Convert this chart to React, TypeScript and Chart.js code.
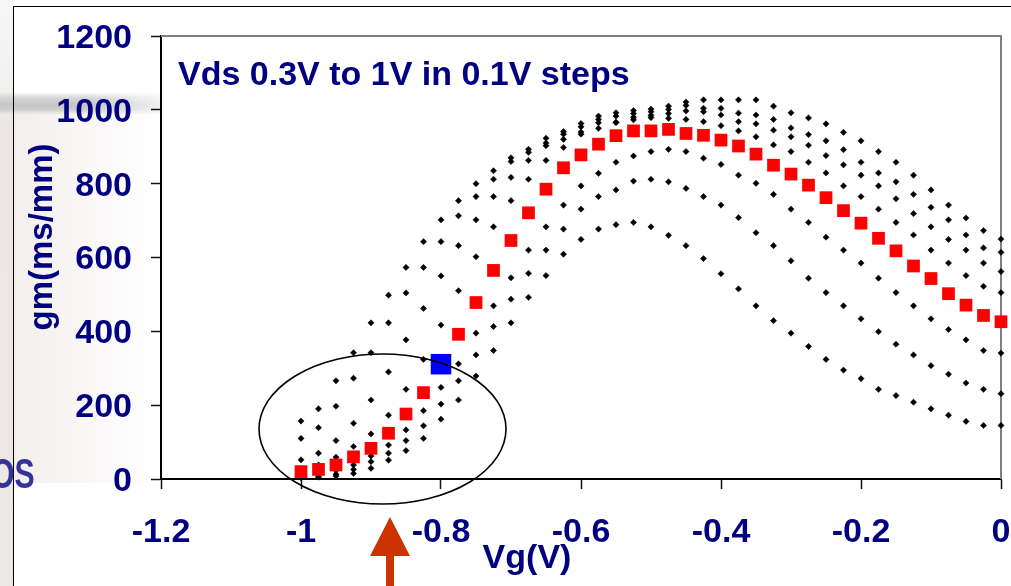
import React, { useEffect, useRef } from "react";
import { Chart, registerables } from "chart.js";
Chart.register(...registerables);

// Gate voltage sweep (V)
const vg = [
  -1, -0.975, -0.95, -0.925, -0.9, -0.875, -0.85, -0.825, -0.8, -0.775,
  -0.75, -0.725, -0.7, -0.675, -0.65, -0.625, -0.6, -0.575, -0.55, -0.525,
  -0.5, -0.475, -0.45, -0.425, -0.4, -0.375, -0.35, -0.325, -0.3, -0.275,
  -0.25, -0.225, -0.2, -0.175, -0.15, -0.125, -0.1, -0.075, -0.05, -0.025, 0,
];

// gm (mS/mm) for each Vds
const gmVds03 = [
  3, 5, 8, 15, 29, 51, 77, 110, 162, 214, 279, 348, 423, 492, 551, 609, 649, 677, 689, 695,
  683, 660, 632, 597, 556, 515, 469, 429, 395, 359, 324, 295, 272, 243, 226, 208, 190, 173, 156, 145, 145,
];
const gmVds04 = [
  6, 8, 13, 26, 47, 70, 104, 144, 203, 266, 336, 413, 487, 557, 620, 677, 731, 765, 783, 807,
  812, 805, 787, 765, 742, 708, 667, 632, 591, 544, 505, 469, 434, 399, 365, 336, 307, 284, 260, 243, 231,
];
const gmVds05 = [
  10, 14, 24, 38, 62, 92, 133, 185, 248, 312, 395, 469, 545, 620, 683, 742, 794, 828, 858, 875,
  887, 893, 887, 869, 852, 823, 801, 771, 731, 695, 655, 620, 585, 544, 505, 469, 434, 405, 377, 348, 341,
];
const gmVds06 = [
  20, 26, 38, 60, 83, 124, 176, 234, 311, 392, 478, 565, 646, 721, 785, 843, 878, 907, 930, 943,
  943, 947, 936, 931, 918, 902, 880, 850, 826, 796, 762, 727, 693, 652, 618, 577, 543, 502, 471, 443, 426,
];
const gmVds07 = [
  28, 38, 59, 88, 122, 173, 243, 324, 417, 510, 602, 683, 754, 812, 863, 898, 934, 950, 966, 973,
  979, 977, 974, 968, 957, 943, 927, 905, 887, 858, 829, 794, 765, 731, 695, 661, 620, 585, 551, 522, 505,
];
const gmVds08 = [
  52, 70, 104, 151, 214, 290, 377, 462, 550, 632, 702, 765, 817, 863, 903, 920, 940, 965, 966, 980,
  985, 990, 997, 995, 986, 968, 962, 945, 927, 904, 876, 851, 823, 794, 759, 719, 683, 649, 620, 585, 562,
];
const gmVds09 = [
  110, 139, 197, 273, 342, 423, 504, 573, 643, 713, 765, 812, 860, 885, 910, 934, 954, 974, 983, 990,
  995, 1001, 1012, 1004, 1004, 991, 986, 974, 951, 933, 916, 892, 858, 829, 805, 771, 736, 702, 661, 626, 614,
];
const gmVds10 = [
  157, 190, 266, 342, 423, 498, 573, 643, 702, 754, 800, 835, 870, 893, 923, 941, 963, 983, 992, 998,
  1002, 1010, 1021, 1027, 1027, 1027, 1027, 1010, 992, 978, 962, 939, 916, 887, 858, 823, 783, 742, 707, 673, 650,
];

const highlightVg = [-0.8];
const highlightGm = [311];

const xTickValues = [-1.2, -1, -0.8, -0.6, -0.4, -0.2, 0];
const yTickValues = [0, 200, 400, 600, 800, 1000, 1200];

const NAVY = "#000080";
const FAMILY = '"Liberation Sans", Arial, Helvetica, sans-serif';

const pts = (ys: number[]) => vg.map((x, i) => ({ x, y: ys[i] }));

const blackSet = (label: string, ys: number[], order: number) => ({
  label,
  data: pts(ys),
  pointStyle: "rectRot",
  pointRadius: 3.1,
  pointBorderWidth: 0.5,
  backgroundColor: "#000",
  borderColor: "#000",
  showLine: false,
  clip: false,
  order,
});

const framePlugin = {
  id: "framePlugin",
  beforeDraw(chart: any) {
    const { ctx, chartArea } = chart;
    const { left, top, right, bottom } = chartArea;
    ctx.save();
    ctx.fillStyle = "#ffffff";
    ctx.fillRect(left, top, right - left, bottom - top);
    ctx.restore();
  },
  beforeDatasetsDraw(chart: any) {
    const { ctx, chartArea } = chart;
    const { left, top, right, bottom } = chartArea;
    ctx.save();
    ctx.strokeStyle = "#808080";
    ctx.lineWidth = 2;
    ctx.beginPath();
    ctx.moveTo(left, top);
    ctx.lineTo(right, top);
    ctx.lineTo(right, bottom);
    ctx.stroke();
    ctx.restore();
  },
  afterDraw(chart: any) {
    const { ctx } = chart;
    ctx.save();
    ctx.fillStyle = NAVY;
    ctx.font = `bold 34px ${FAMILY}`;
    ctx.textBaseline = "alphabetic";
    // annotation
    ctx.textAlign = "left";
    ctx.fillText("Vds 0.3V to 1V in 0.1V steps", 178, 85);
    // x title
    ctx.textAlign = "center";
    ctx.fillText("Vg(V)", 527, 568);
    // y title
    ctx.font = `bold 33px ${FAMILY}`;
    ctx.translate(52, 237);
    ctx.rotate(-Math.PI / 2);
    ctx.fillText("gm(ms/mm)", 0, 0);
    ctx.restore();
  },
};

export default function App() {
  const ref = useRef<HTMLCanvasElement | null>(null);

  useEffect(() => {
    if (!ref.current) return;
    const tickFont = { family: FAMILY, size: 34, weight: "bold" as const };
    const chart = new Chart(ref.current, {
      type: "scatter",
      data: {
        datasets: [
          {
            label: "Vg = -0.8V",
            data: highlightVg.map((x, i) => ({ x, y: highlightGm[i] })),
            pointStyle: "rect",
            pointRadius: 14.5,
            pointBorderWidth: 0,
            backgroundColor: "#0000ff",
            borderColor: "#0000ff",
            showLine: false,
            clip: false,
            order: 0,
          } as any,
          {
            label: "Vds 0.6V",
            data: pts(gmVds06),
            pointStyle: "rect",
            pointRadius: 9,
            pointBorderWidth: 0,
            backgroundColor: "#ff0000",
            borderColor: "#ff0000",
            showLine: false,
            clip: false,
            order: 1,
          } as any,
          blackSet("Vds 0.3V", gmVds03, 2) as any,
          blackSet("Vds 0.4V", gmVds04, 3) as any,
          blackSet("Vds 0.5V", gmVds05, 4) as any,
          blackSet("Vds 0.7V", gmVds07, 5) as any,
          blackSet("Vds 0.8V", gmVds08, 6) as any,
          blackSet("Vds 0.9V", gmVds09, 7) as any,
          blackSet("Vds 1.0V", gmVds10, 8) as any,
        ],
      },
      options: {
        animation: false,
        responsive: false,
        maintainAspectRatio: false,
        events: [],
        layout: { autoPadding: false, padding: { left: 13, right: 10, top: 36, bottom: 0 } },
        plugins: {
          legend: { display: false },
          tooltip: { enabled: false },
          title: { display: false },
        },
        scales: {
          x: {
            type: "linear",
            min: -1.2,
            max: 0,
            afterBuildTicks: (s: any) => {
              s.ticks = xTickValues.map((v) => ({ value: v }));
            },
            afterFit: (s: any) => {
              s.height = 107;
              s.paddingLeft = 0;
              s.paddingRight = 0;
            },
            ticks: {
              font: tickFont,
              color: NAVY,
              padding: 23,
              maxRotation: 0,
              autoSkip: false,
              callback: (v: any) => String(v),
            },
            grid: {
              drawOnChartArea: false,
              drawTicks: true,
              tickLength: 10,
              tickColor: "#111",
              tickWidth: 1.5,
            },
            border: { display: true, color: "#000", width: 2 },
          },
          y: {
            type: "linear",
            min: 0,
            max: 1200,
            afterBuildTicks: (s: any) => {
              s.ticks = yTickValues.map((v) => ({ value: v }));
            },
            afterFit: (s: any) => {
              s.width = 148;
              s.paddingTop = 0;
              s.paddingBottom = 0;
            },
            ticks: {
              font: tickFont,
              color: NAVY,
              padding: 19,
              labelOffset: 2.5,
              autoSkip: false,
              callback: (v: any) => String(v),
            },
            grid: {
              drawOnChartArea: false,
              drawTicks: true,
              tickLength: 10,
              tickColor: "#111",
              tickWidth: 1.5,
            },
            border: { display: true, color: "#000", width: 2 },
          },
        },
      },
      plugins: [framePlugin],
    });
    return () => chart.destroy();
  }, []);

  const bandMask = "linear-gradient(to right, #000 0%, #000 55%, rgba(0,0,0,0.25) 100%)";

  return (
    <div
      style={{
        position: "absolute",
        left: 0,
        top: 0,
        width: 1011,
        height: 586,
        overflow: "hidden",
        background: "#ffffff",
      }}
    >
      {/* slide background */}
      <div style={{ position: "absolute", left: 0, top: 0, width: 13, height: 586, background: "linear-gradient(to bottom, #f7f7f7 0px, #f3f1f0 90px, #ece7e5 120px, #ede8e6 586px)" }} />
      <div style={{ position: "absolute", left: 13, top: 113, width: 148, height: 370, background: "linear-gradient(to right, #f2eeec 0%, #f8f6f5 40%, #ffffff 100%)" }} />
      <div
        style={{
          position: "absolute",
          left: 0,
          top: 92,
          width: 160,
          height: 22,
          background: "linear-gradient(to bottom, rgba(220,220,220,0) 0px, #d6d6d6 6px, #c4c4c4 13px, #cfcfcf 18px, rgba(235,232,231,0.6) 22px)",
          WebkitMaskImage: bandMask,
          maskImage: bandMask,
        }}
      />
      {/* outer chart frame */}
      <div style={{ position: "absolute", left: 13, top: 6, width: 1100, height: 700, borderLeft: "1px solid #000", borderTop: "1px solid #000" }} />
      <canvas ref={ref} width={1011} height={586} style={{ position: "absolute", left: 0, top: 0, width: 1011, height: 586 }} />
      <svg width={1011} height={586} style={{ position: "absolute", left: 0, top: 0, pointerEvents: "none" }}>
        <ellipse cx={382.5} cy={429} rx={123.5} ry={75} fill="none" stroke="#000" strokeWidth={1.6} />
        <polygon points="390,517 410,556 394,556 394,586 386,586 386,556 370,556" fill="#cc3300" />
      </svg>
      <div
        style={{
          position: "absolute",
          left: -9,
          top: 451,
          fontFamily: FAMILY,
          fontWeight: "bold",
          fontSize: 42,
          lineHeight: "46px",
          color: "#333399",
          transform: "scaleX(0.72)",
          transformOrigin: "left top",
          whiteSpace: "nowrap",
        }}
      >
        OS
      </div>
    </div>
  );
}
